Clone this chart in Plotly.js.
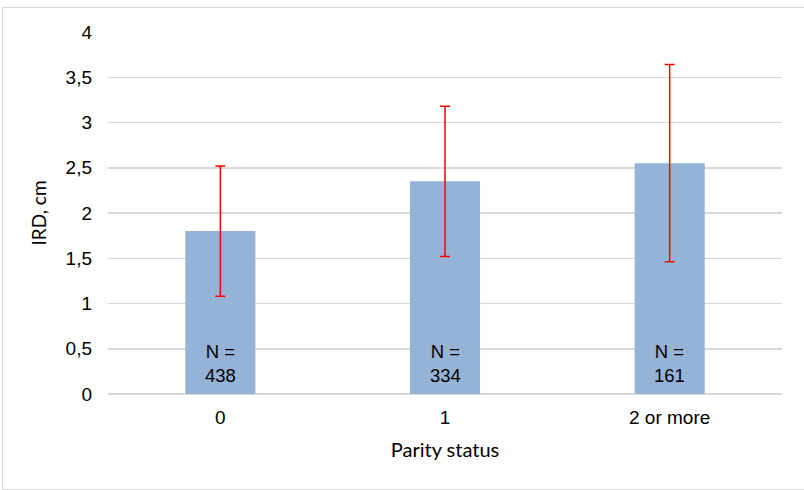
<!DOCTYPE html>
<html>
<head>
<meta charset="utf-8">
<script src="https://cdn.plot.ly/plotly-3.0.1.min.js"></script>
<style>
  html, body { margin: 0; padding: 0; background: #ffffff; }
  #wrap { position: relative; width: 804px; height: 490px; overflow: hidden; }
  #chart { position: absolute; left: 0; top: 0; width: 804px; height: 490px; }
  #frame { position: absolute; left: 2px; top: 7px; width: 820px; height: 481px;
           border: 1px solid #d9d9d9; pointer-events: none; }
</style>
</head>
<body>
<div id="wrap">
  <div id="chart"></div>
  <div id="frame"></div>
</div>
<script>
// ---- data ----
const categories = ['0', '1', '2 or more'];
const meanIRD    = [1.80, 2.35, 2.55];
const sdIRD      = [0.72, 0.83, 1.09];
const nCounts    = [438, 334, 161];
const yTickVals  = [0, 0.5, 1, 1.5, 2, 2.5, 3, 3.5, 4];
const yTickText  = ['0', '0,5', '1', '1,5', '2', '2,5', '3', '3,5', '4'];

const armFont = 'Arial, "Liberation Sans", sans-serif';
const titleFont = 'Lato, "Open Sans", sans-serif';

const trace = {
  type: 'bar',
  x: categories,
  y: meanIRD,
  marker: { color: '#95b3d7' },
  error_y: { type: 'data', array: sdIRD, visible: true, color: '#ff0000', thickness: 1.5, width: 5 },
  hoverinfo: 'skip'
};

const annotations = categories.map((c, i) => ({
  x: c, y: 0, xref: 'x', yref: 'y',
  text: 'N =<br>' + nCounts[i],
  showarrow: false,
  yanchor: 'middle',
  yshift: 31,
  font: { family: armFont, size: 18.5, color: '#000000' }
}));

const layout = {
  width: 804, height: 490,
  margin: { l: 108, r: 22, t: 32, b: 96 },
  paper_bgcolor: 'rgba(0,0,0,0)',
  plot_bgcolor: '#ffffff',
  showlegend: false,
  bargap: 0.688,
  font: { family: armFont, size: 19, color: '#000000' },
  xaxis: {
    type: 'category',
    range: [-0.5, 2.5],
    showgrid: false, showline: false, zeroline: false,
    ticks: '',
    ticklabelstandoff: 10,
    tickfont: { family: armFont, size: 19, color: '#000000' },
    title: { text: 'Parity status', standoff: 15, font: { family: titleFont, size: 20, color: '#000000' } }
  },
  yaxis: {
    range: [0, 4],
    tickvals: yTickVals,
    ticktext: yTickText,
    showgrid: true, gridcolor: '#d9d9d9', gridwidth: 1.5,
    zeroline: true, zerolinecolor: '#d9d9d9', zerolinewidth: 1.5,
    showline: false, ticks: '',
    ticklabelstandoff: 15,
    tickfont: { family: armFont, size: 19, color: '#000000' },
    title: { text: 'IRD, cm', standoff: 13, font: { family: titleFont, size: 19, color: '#000000' } }
  },
  annotations: annotations
};

Plotly.newPlot('chart', [trace], layout, { staticPlot: true, displayModeBar: false });
</script>
</body>
</html>
